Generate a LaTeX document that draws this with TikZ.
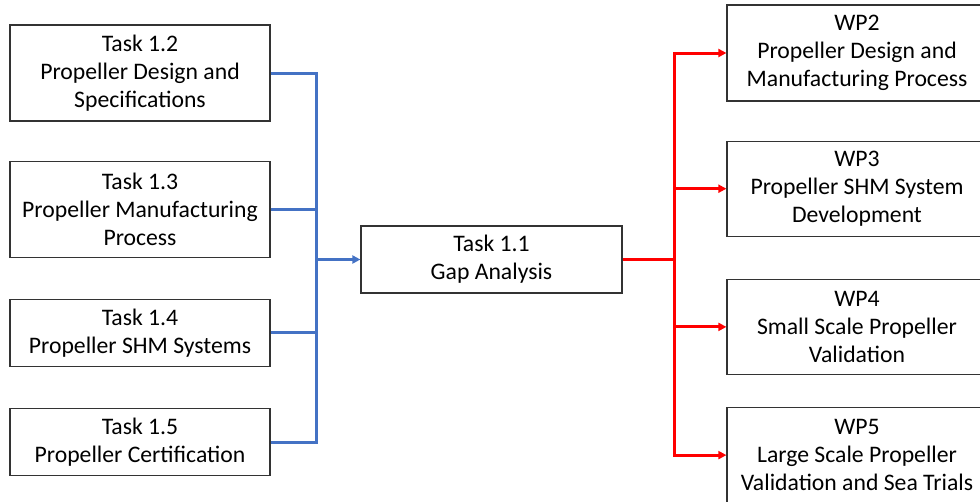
\documentclass[tikz,border=0pt]{standalone}
\usepackage{fontspec}
\setmainfont{Carlito}
\usetikzlibrary{positioning,arrows.meta}

\definecolor{linkblue}{RGB}{68,114,196}
\definecolor{linkred}{RGB}{255,0,0}

\tikzset{
	box/.style={draw=black!80, line width=1.2pt, rectangle, align=center, inner sep=0pt,
		minimum width=260pt, font=\fontsize{23.7}{28}\selectfont},
	tall/.style={box, minimum height=96pt},
	flat/.style={box, minimum height=67pt},
	link/.style={line width=3pt, -{Triangle[length=8pt,width=8pt]}},
}

\begin{document}
\begin{tikzpicture}[x=1pt, y=1pt]
	\useasboundingbox	(0,0) rectangle (980,-501);

	\node[tall]	(t12)	at (140,-73)	{Task 1.2\\Propeller Design and\\Specifications};
	\node[tall, below=39pt of t12]	(t13)	{Task 1.3\\Propeller Manufacturing\\Process};
	\node[flat, below=41pt of t13]	(t14)	{Task 1.4\\Propeller SHM Systems};
	\node[flat, below=41pt of t14]	(t15)	{Task 1.5\\Propeller Certification};
	\node[flat, minimum width=261pt]	(gap)	at (491.5,-259.5)	{Task 1.1\\Gap Analysis};
	\node[tall]	(wp2)	at (857,-53)	{WP2\\Propeller Design and\\Manufacturing Process};
	\node[tall, minimum height=95pt, below=39pt of wp2]	(wp3)	{WP3\\Propeller SHM System\\Development};
	\node[tall, minimum height=95pt, below=42pt of wp3]	(wp4)	{WP4\\Small Scale Propeller\\Validation};
	\node[tall, minimum height=95pt, below=32pt of wp4]	(wp5)	{WP5\\Large Scale Propeller\\Validation and Sea Trials};

	\coordinate	(bl)	at (316,0);
	\coordinate	(br)	at (674,0);

	\draw[link, -, linkblue]	(t12.east) -- (t12.east -| bl) -- (t15.east -| bl) -- (t15.east);
	\draw[link, -, linkblue]	(t13.east) -- (t13.east -| bl);
	\draw[link, -, linkblue]	(t14.east) -- (t14.east -| bl);
	\draw[link, linkblue]	(gap.west -| bl) -- (gap.west);

	\draw[link, -, linkred]	(gap.east) -- (gap.east -| br);
	\draw[link, {Triangle[length=8pt,width=8pt]}-{Triangle[length=8pt,width=8pt]}, linkred]
		(wp2.west) -- (wp2.west -| br) -- (wp5.west -| br) -- (wp5.west);
	\draw[link, linkred]	(wp3.west -| br) -- (wp3.west);
	\draw[link, linkred]	(wp4.west -| br) -- (wp4.west);

\end{tikzpicture}
\end{document}
